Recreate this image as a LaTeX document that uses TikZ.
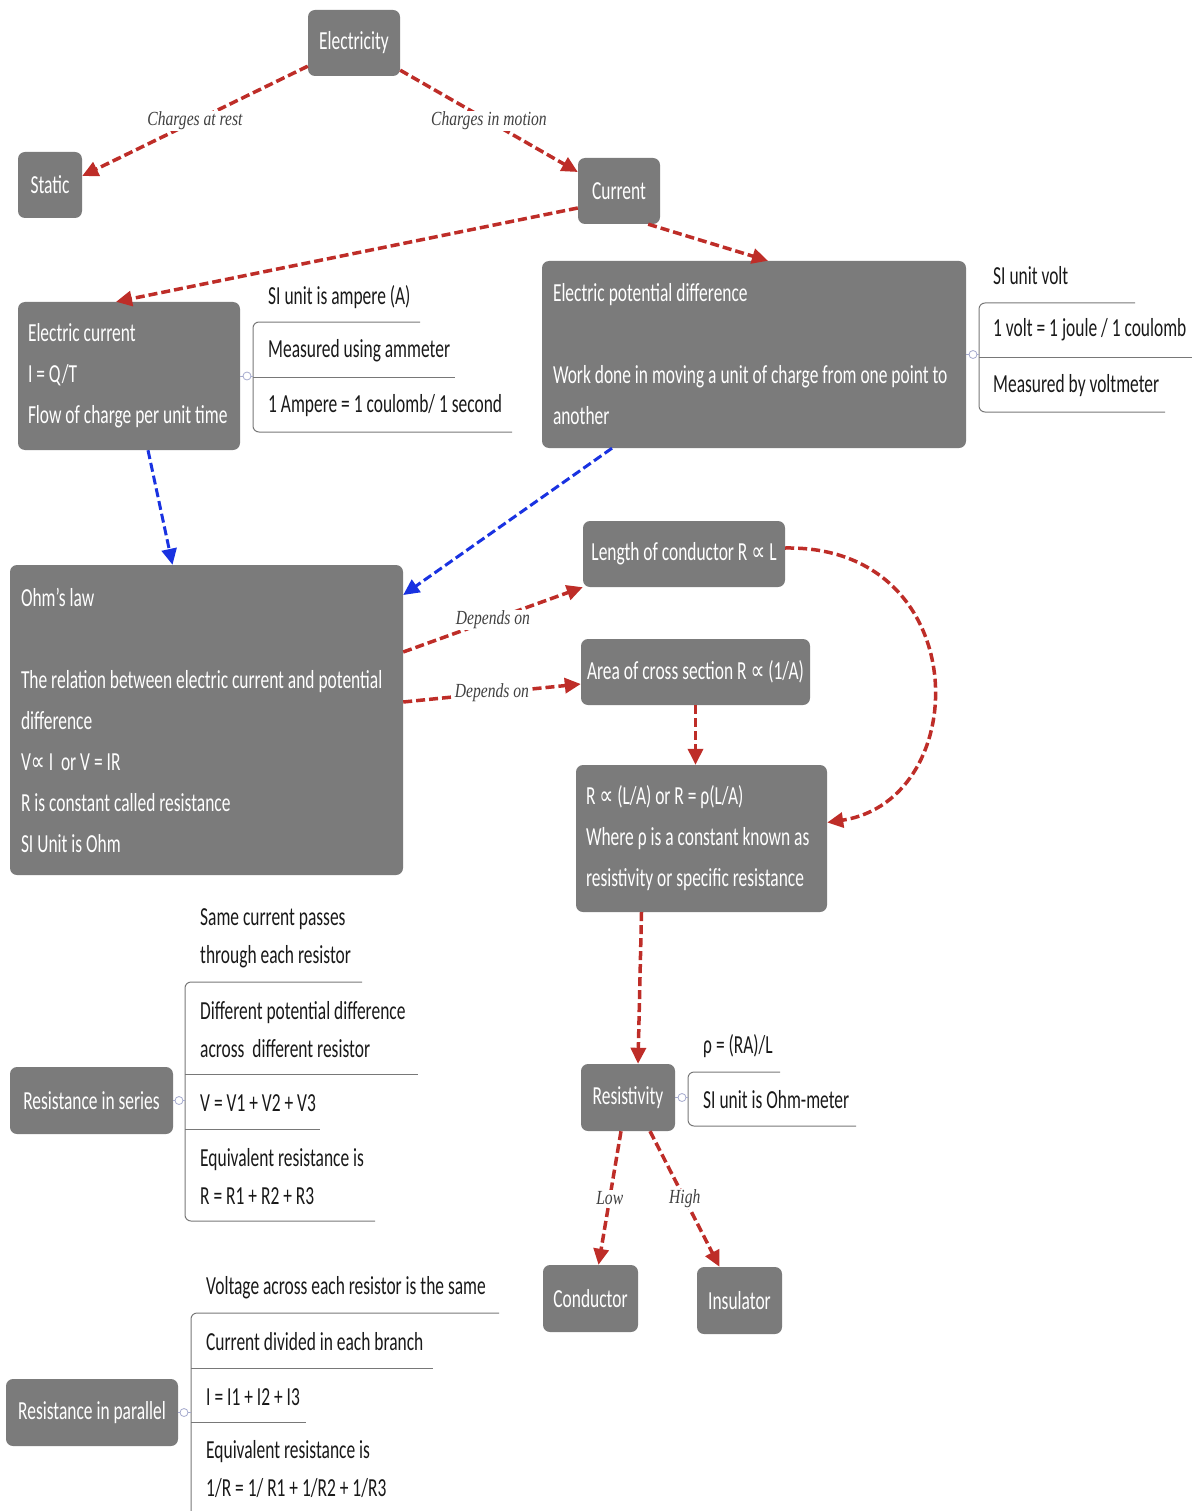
\documentclass[tikz,border=0pt]{standalone}
\usepackage{fontspec}
\setmainfont{Carlito}[FakeStretch=0.67]
\newfontfamily\edgefont{Liberation Serif}[FakeStretch=0.78]
\newfontfamily\symfont{DejaVu Sans}[FakeStretch=0.75]
\usetikzlibrary{arrows.meta}
\definecolor{boxgray}{RGB}{123,123,123}
\definecolor{linkred}{RGB}{190,45,40}
\definecolor{linkblue}{RGB}{25,50,225}
\definecolor{listline}{RGB}{120,120,120}
\definecolor{knobcol}{RGB}{165,170,205}
\newcommand{\prop}{{\symfont ∝}}
\newcommand{\knob}[2]{\draw[knobcol,line width=0.8pt,fill=white] (#1,#2) circle[radius=4pt];}

\begin{document}
\begin{tikzpicture}[x=1pt,y=-1pt,
  topic/.style={fill=boxgray,rounded corners=7pt,text=white,inner sep=0pt,font=\fontsize{26}{41}\selectfont},
  para/.style={topic,align=flush left},
  item/.style={anchor=west,inner sep=0pt,align=flush left,text=black!90,font=\fontsize{26}{38}\selectfont},
  link/.style={draw=linkred,line width=3.5pt,dash pattern=on 9pt off 4pt,-{Triangle[length=16pt,width=15pt]}},
  bluelink/.style={link,draw=linkblue,line width=3pt},
  lbl/.style={fill=white,inner sep=1pt,text=black!75,font=\edgefont\itshape\fontsize{20}{24}\selectfont},
  rule/.style={draw=listline,line width=1pt},
  tie/.style={draw=knobcol,line width=0.8pt}]
\useasboundingbox (0,0) rectangle (1197,1511);

\node[topic,minimum width=92pt,minimum height=66pt] (elec) at (354,43) {Electricity};
\node[topic,minimum width=64pt,minimum height=66pt] (static) at (50,185) {Static};
\node[topic,minimum width=82pt,minimum height=66pt] (curr) at (619,191) {Current};
\node[para,text width=202pt,minimum width=222pt,minimum height=148pt] (ecur) at (129,376) {Electric current\\I = Q/T\\Flow of charge per unit time};
\node[para,text width=402pt,minimum width=424pt,minimum height=187pt] (epd) at (754,354.5) {Electric potential difference\\[41pt]Work done in moving a unit of charge from one point to\\another};
\node[para,text width=371pt,minimum width=393pt,minimum height=310pt] (ohm) at (206.5,720) {Ohm's law\\[41pt]The relation between electric current and potential\\difference\\V\prop{} I\ \ or V = IR\\R is constant called resistance\\SI Unit is Ohm};
\node[topic,minimum width=202pt,minimum height=66pt] (lenc) at (684,554) {Length of conductor R \prop{} L};
\node[topic,minimum width=229pt,minimum height=66pt] (area) at (695.5,672) {Area of cross section R \prop{} (1/A)};
\node[para,text width=231pt,minimum width=251pt,minimum height=147pt] (rbox) at (701.5,838.5) {R \prop{} (L/A) or R = ρ(L/A)\\Where ρ is a constant known as\\resistivity or specific resistance};
\node[topic,minimum width=94pt,minimum height=67pt] (resi) at (628,1097.5) {Resistivity};
\node[topic,minimum width=95pt,minimum height=67pt] (cond) at (590.5,1298.5) {Conductor};
\node[topic,minimum width=85pt,minimum height=67pt] (insu) at (739.5,1300.5) {Insulator};
\node[topic,minimum width=163pt,minimum height=67pt] (series) at (91.5,1100.5) {Resistance in series};
\node[topic,minimum width=172pt,minimum height=67pt] (parallel) at (92,1412.5) {Resistance in parallel};

\node[item] (ia1) at (268,297) {SI unit is ampere (A)};
\node[item] (ia2) at (268,351) {Measured using ammeter};
\node[item] (ia3) at (268,406) {1 Ampere = 1 coulomb/ 1 second};
\draw[rule,rounded corners=6pt] (420,322) -- (253,322) -- (253,432) -- (512,432);
\draw[rule] (253,377) -- (455,377);
\draw[tie] (ecur.east) -- (253,376);
\knob{247}{376}

\node[item] (iv1) at (993,276) {SI unit volt};
\node[item] (iv2) at (993,330) {1 volt = 1 joule / 1 coulomb};
\node[item] (iv3) at (993,386) {Measured by voltmeter};
\draw[rule,rounded corners=6pt] (1135,303) -- (979,303) -- (979,412) -- (1165,412);
\draw[rule] (979,357) -- (1192,357);
\draw[tie] (epd.east) -- (979,354.5);
\knob{973}{354.5}

\node[item] (is1) at (200,938) {Same current passes\\through each resistor};
\node[item] (is2) at (200,1030) {Different potential difference\\across\ \ different resistor};
\node[item] (is3) at (200,1103) {V = V1 + V2 + V3};
\node[item] (is4) at (200,1176.5) {Equivalent resistance is\\R = R1 + R2 + R3};
\draw[rule,rounded corners=6pt] (362,982) -- (185,982) -- (185,1221) -- (375,1221);
\draw[rule] (185,1074) -- (418,1074);
\draw[rule] (185,1129) -- (320,1129);
\draw[tie] (series.east) -- (185,1100.5);
\knob{179}{1100.5}

\node[item] (ip1) at (206,1288) {Voltage across each resistor is the same};
\node[item] (ip2) at (206,1342) {Current divided in each branch};
\node[item] (ip3) at (206,1397) {I = I1 + I2 + I3};
\node[item] (ip4) at (206,1469.5) {Equivalent resistance is\\1/R = 1/ R1 + 1/R2 + 1/R3};
\draw[rule,rounded corners=6pt] (499,1313) -- (191,1313) -- (191,1511);
\draw[rule] (191,1368) -- (433,1368);
\draw[rule] (191,1422) -- (306,1422);
\draw[tie] (parallel.east) -- (191,1412.5);
\knob{184}{1412.5}

\node[item] (ir1) at (703,1046) {ρ = (RA)/L};
\node[item] (ir2) at (703,1100) {SI unit is Ohm-meter};
\draw[rule,rounded corners=6pt] (780,1072) -- (688,1072) -- (688,1126) -- (856,1126);
\draw[tie] (resi.east) -- (688,1097.5);
\knob{682}{1097.5}

\draw[link] ([yshift=10pt]elec.south west) -- node[lbl] {Charges at rest} ([yshift=9pt]static.east);
\draw[link] ([yshift=6pt]elec.south east) -- node[lbl] {Charges in motion} ([yshift=19pt]curr.west);
\draw[link] ([yshift=-17pt]curr.west) -- ([xshift=-13pt]ecur.north);
\draw[link] ([xshift=-12pt]curr.south east) -- ([xshift=14pt]epd.north);
\draw[bluelink] ([xshift=19pt]ecur.south) -- ([xshift=-34pt]ohm.north);
\draw[bluelink] ([xshift=-142pt]epd.south) -- ([yshift=125pt]ohm.east);
\draw[link] ([yshift=68pt]ohm.east) -- node[lbl] {Depends on} (lenc.south west);
\draw[link] ([yshift=18pt]ohm.east) -- node[lbl] {Depends on} ([yshift=-12pt]area.west);
\draw[link] ([yshift=6pt]lenc.east) .. controls (975,545) and (975,800) .. ([yshift=16pt]rbox.east);
\draw[link] (area.south) -- (area.south |- rbox.north);
\draw[link] ([xshift=-60pt]rbox.south) -- ([xshift=10pt]resi.north);
\draw[link] ([xshift=-7pt]resi.south) -- node[lbl] {Low} ([xshift=8pt]cond.north);
\draw[link] ([xshift=22pt]resi.south) -- node[lbl] {High} ([xshift=-20pt]insu.north);
\end{tikzpicture}
\end{document}
